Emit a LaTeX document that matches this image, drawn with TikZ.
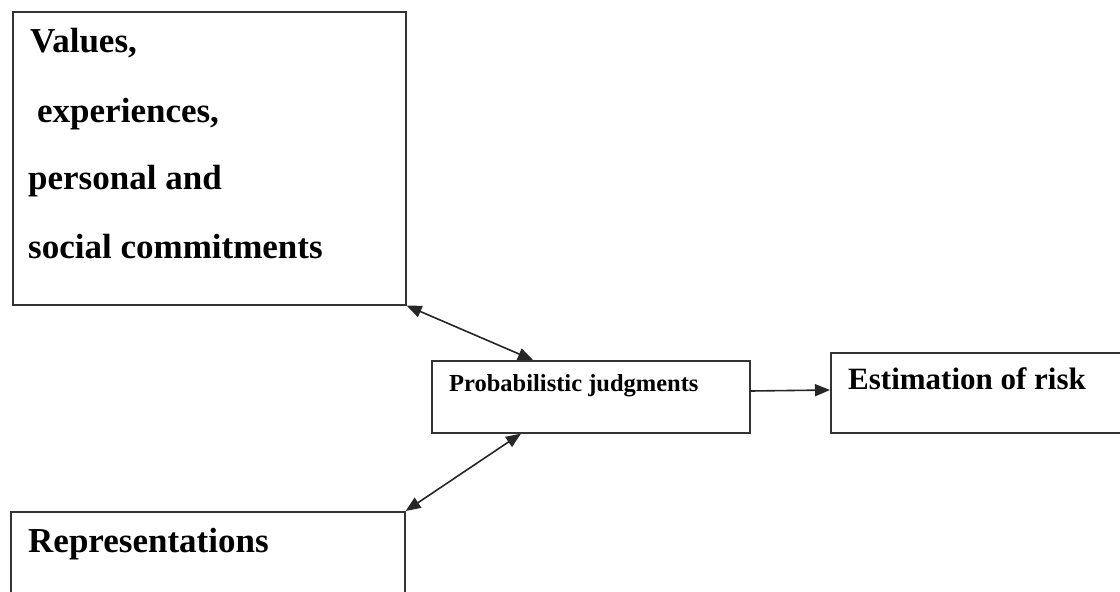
\documentclass[tikz,border=0pt]{standalone}
\usepackage{fontspec}
\setmainfont{Liberation Serif}
\usetikzlibrary{arrows.meta}
\begin{document}
\begin{tikzpicture}[x=1pt,y=-1pt,
  box/.style={draw=black!80,line width=1.6pt,rectangle,inner sep=0pt,anchor=north west},
  big/.style={anchor=base west,inner sep=0pt,font=\fontsize{35}{40}\selectfont\bfseries},
  mid/.style={anchor=base west,inner sep=0pt,font=\fontsize{31}{36}\selectfont\bfseries},
  small/.style={anchor=base west,inner sep=0pt,font=\fontsize{24.5}{30}\selectfont\bfseries},
  tip/.style={},
  conn/.style={line width=1.6pt,black!85,{Triangle[length=15pt,width=12pt]}-{Triangle[length=15pt,width=12pt]}},
  conn1/.style={line width=1.6pt,black!85,-{Triangle[length=15pt,width=12pt]}}]
\useasboundingbox (0,0) rectangle (1120,592);
\clip (0,0) rectangle (1120,592);
% boxes
\node[box,minimum width=393pt,minimum height=293pt] (v) at (12,11) {};
\node[box,minimum width=318pt,minimum height=72pt] (p) at (431,360) {};
\node[box,minimum width=310pt,minimum height=80pt] (e) at (830,352) {};
\node[box,minimum width=394pt,minimum height=100pt] (r) at (10,511) {};
% texts
\node[big] (t1) at (30,52) {Values,};
\node[big] (t2) at (37,122) {experiences,};
\node[big] (t3) at (28,189) {personal and};
\node[big] (t4) at (28,258) {social commitments};
\node[small] (tp) at (449,391) {Probabilistic judgments};
\node[mid] (te) at (848,389) {Estimation of risk};
\node[big] (tr) at (28,552) {Representations};
% connectors
\coordinate (p1) at ([xshift=102pt]p.north west);
\coordinate (p2) at ([xshift=90pt]p.south west);
\coordinate (e1) at ([yshift=-38pt]e.north west);
\coordinate (pe) at ([yshift=-31pt]p.north east);
\draw[conn] (v.south east) -- (p1);
\draw[conn] (r.north east) -- (p2);
\draw[conn1] (pe) -- (e1);
\end{tikzpicture}
\end{document}
